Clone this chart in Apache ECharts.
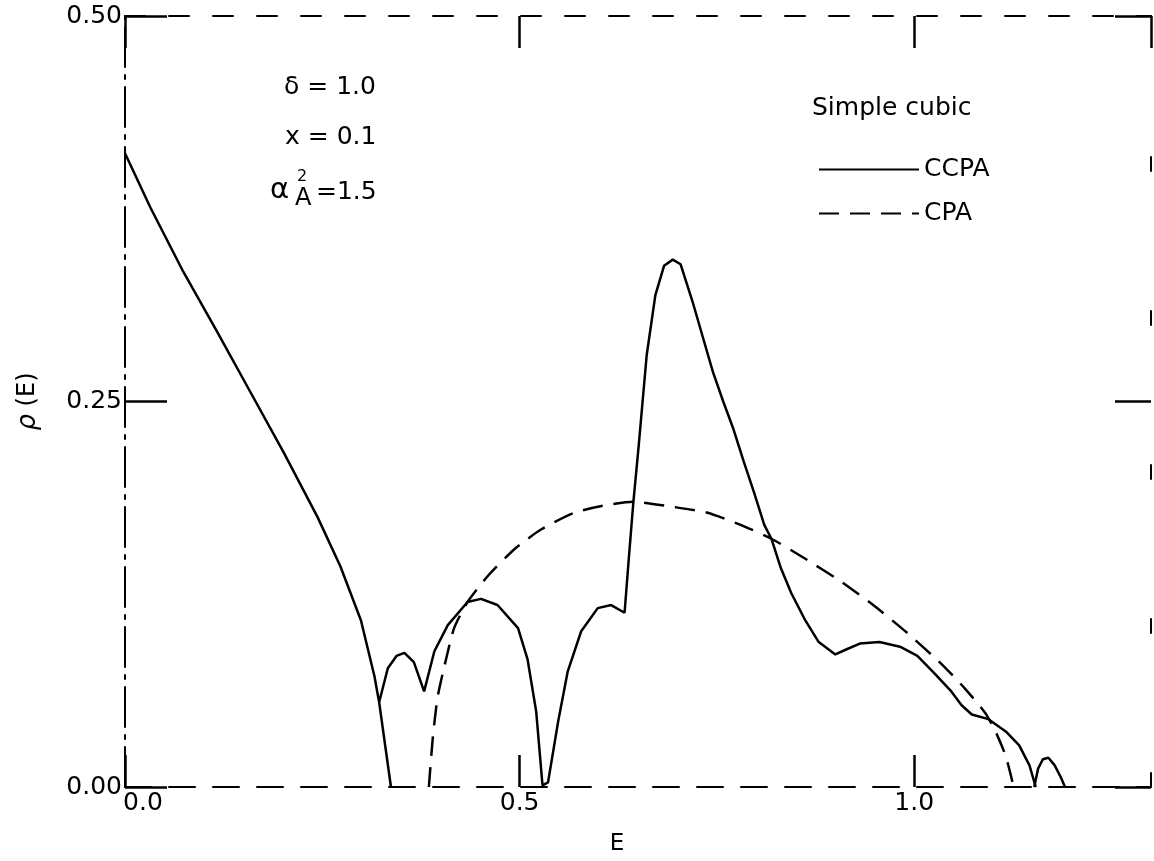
<!DOCTYPE html>
<html>
<head>
<meta charset="utf-8">
<script src="https://cdn.jsdelivr.net/npm/echarts@6.0.0/dist/echarts.min.js"></script>
<style>
  html, body { margin: 0; padding: 0; background: #fff; }
  #chart { width: 1154px; height: 861px; }
</style>
</head>
<body>
<div id="chart"></div>
<script>
// E, rho(E)
var ccpaMain = [
  [0.000, 0.411], [0.032, 0.376], [0.074, 0.334], [0.117, 0.295], [0.159, 0.256],
  [0.201, 0.217], [0.244, 0.175], [0.273, 0.143], [0.299, 0.108], [0.316, 0.072],
  [0.322, 0.055], [0.333, 0.077], [0.344, 0.085], [0.354, 0.087], [0.366, 0.081],
  [0.379, 0.062], [0.392, 0.088], [0.409, 0.105], [0.434, 0.120], [0.451, 0.122],
  [0.472, 0.118], [0.498, 0.103], [0.510, 0.083], [0.521, 0.049], [0.529, 0.001],
  [0.536, 0.003], [0.549, 0.043], [0.561, 0.075], [0.578, 0.101], [0.599, 0.116],
  [0.616, 0.118], [0.633, 0.113], [0.638, 0.146], [0.644, 0.184], [0.651, 0.222],
  [0.661, 0.280], [0.672, 0.319], [0.683, 0.338], [0.694, 0.342], [0.704, 0.339],
  [0.719, 0.315], [0.732, 0.292], [0.745, 0.269], [0.758, 0.250], [0.771, 0.232],
  [0.784, 0.211], [0.797, 0.191], [0.810, 0.170], [0.819, 0.161], [0.831, 0.142],
  [0.844, 0.126], [0.862, 0.108], [0.879, 0.094], [0.900, 0.086], [0.913, 0.089],
  [0.931, 0.093], [0.956, 0.094], [0.982, 0.091], [1.004, 0.085], [1.025, 0.074],
  [1.047, 0.062], [1.060, 0.053], [1.073, 0.047], [1.094, 0.044], [1.116, 0.036],
  [1.133, 0.027], [1.146, 0.014], [1.154, 0.000]
];
var ccpaEdge = [[0.322, 0.055], [0.337, 0.000]];
var ccpaTail = [
  [1.152, 0.000], [1.157, 0.012], [1.163, 0.018], [1.170, 0.019],
  [1.178, 0.014], [1.186, 0.006], [1.191, 0.000]
];
var cpa = [
  [0.385, 0.000], [0.390, 0.032], [0.396, 0.058], [0.405, 0.079], [0.417, 0.103],
  [0.434, 0.120], [0.460, 0.137], [0.493, 0.154], [0.527, 0.167], [0.570, 0.178],
  [0.612, 0.183], [0.644, 0.185], [0.690, 0.182], [0.737, 0.178], [0.780, 0.170],
  [0.819, 0.161], [0.862, 0.148], [0.905, 0.134], [0.948, 0.118], [0.991, 0.100],
  [1.034, 0.080], [1.064, 0.064], [1.090, 0.048], [1.103, 0.036], [1.116, 0.020],
  [1.126, 0.000]
];
var xTicks = { min: 0, max: 1.3, interval: 0.5 };
var yTicks = { min: 0, max: 0.5, interval: 0.25 };

var FONT = 'DejaVu Sans';
var myChart = echarts.init(document.getElementById('chart'));

function curve(name, data, dashed) {
  return {
    name: name,
    type: 'line',
    data: data,
    symbol: 'none',
    smooth: dashed ? 0.2 : false,
    animation: false,
    itemStyle: { color: '#000' },
    lineStyle: { color: '#000', width: 2.5, type: dashed ? [20, 11] : 'solid' }
  };
}

var option = {
  backgroundColor: '#fff',
  animation: false,
  grid: { left: 125, right: 3, top: 16, bottom: 68 },
  legend: {
    data: ['CCPA', 'CPA'],
    orient: 'vertical',
    left: 813,
    top: 152,
    itemWidth: 100,
    itemHeight: 14,
    itemGap: 19,
    itemStyle: { opacity: 0 },
    textStyle: { fontFamily: FONT, fontSize: 25, color: '#000' }
  },
  xAxis: [{
    type: 'value',
    position: 'bottom',
    min: xTicks.min, max: xTicks.max, interval: xTicks.interval,
    name: 'E',
    nameLocation: 'middle',
    nameGap: 46,
    nameTextStyle: { fontFamily: FONT, fontSize: 23, color: '#000', padding: [0, 42, 0, 0] },
    axisLine: { onZero: false, lineStyle: { color: '#000', width: 2, type: [26, 18] } },
    axisTick: { inside: true, length: 32, lineStyle: { color: '#000', width: 2.5 } },
    axisLabel: {
      showMaxLabel: false,
      margin: 4,
      fontFamily: FONT, fontSize: 25, color: '#000',
      formatter: function(v) {
        return v === 0 ? '{a|0.0}' : v.toFixed(1);
      },
      rich: { a: { fontFamily: FONT, fontSize: 25, color: '#000', padding: [0, 0, 0, 36] } }
    },
    splitLine: { show: false }
  }, {
    type: 'value',
    position: 'top',
    min: xTicks.min, max: xTicks.max, interval: xTicks.interval,
    axisLine: { onZero: false, lineStyle: { color: '#000', width: 2, type: [20, 24] } },
    axisTick: { inside: true, length: 32, lineStyle: { color: '#000', width: 2.5 } },
    axisLabel: { show: false },
    splitLine: { show: false }
  }],
  yAxis: [{
    type: 'value',
    position: 'left',
    min: yTicks.min, max: yTicks.max, interval: yTicks.interval,
    name: '{r|ρ} (E)',
    nameLocation: 'middle',
    nameGap: 84,
    nameTextStyle: {
      fontFamily: FONT, fontSize: 24, color: '#000',
      rich: { r: { fontFamily: FONT, fontSize: 26, fontStyle: 'italic', color: '#000' } }
    },
    axisLine: { onZero: false, lineStyle: { color: '#000', width: 2, type: [40, 8, 4, 8] } },
    axisTick: { inside: true, length: 42, lineStyle: { color: '#000', width: 2.5 } },
    axisLabel: {
      margin: 3,
      fontFamily: FONT, fontSize: 25, color: '#000',
      formatter: function(v) { return v.toFixed(2); }
    },
    splitLine: { show: false }
  }, {
    type: 'value',
    position: 'right',
    min: yTicks.min, max: yTicks.max, interval: yTicks.interval,
    axisLine: { onZero: false, lineStyle: { color: '#000', width: 2, type: [14, 140] } },
    axisTick: { inside: true, length: 36, lineStyle: { color: '#000', width: 2.5 } },
    axisLabel: { show: false },
    splitLine: { show: false }
  }],
  graphic: [
    { type: 'text', left: 284, top: 75, style: { text: 'δ = 1.0', font: '25px "DejaVu Sans"', fill: '#000' } },
    { type: 'text', left: 285, top: 125, style: { text: 'x = 0.1', font: '25px "DejaVu Sans"', fill: '#000' } },
    { type: 'text', left: 270, top: 176, style: { text: 'α', font: '29px "DejaVu Sans"', fill: '#000' } },
    { type: 'text', left: 297, top: 169, style: { text: '2', font: '16px "DejaVu Sans"', fill: '#000' } },
    { type: 'text', left: 295, top: 187, style: { text: 'A', font: '24px "DejaVu Sans"', fill: '#000' } },
    { type: 'text', left: 316, top: 180, style: { text: '=1.5', font: '25px "DejaVu Sans"', fill: '#000' } },
    { type: 'text', left: 812, top: 96, style: { text: 'Simple cubic', font: '25px "DejaVu Sans"', fill: '#000' } }
  ],
  series: [
    curve('CCPA', ccpaMain, false),
    curve('CCPA', ccpaEdge, false),
    curve('CCPA', ccpaTail, false),
    curve('CPA', cpa, true)
  ]
};
myChart.setOption(option);
</script>
</body>
</html>
